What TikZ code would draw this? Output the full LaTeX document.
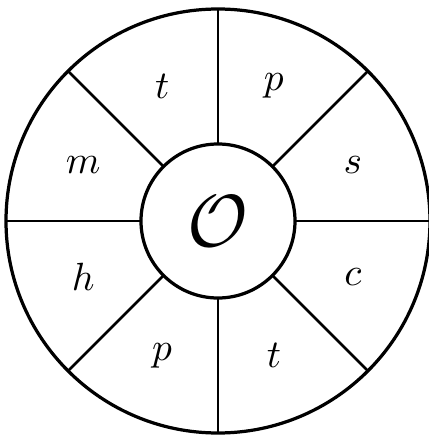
\documentclass[tikz,border=0pt]{standalone}
\usepackage{graphicx}
\usetikzlibrary{positioning}

\newcommand\bigletter[2]{\scalebox{#1}{$#2$}}

\begin{document}
\begin{tikzpicture}[
    ring/.style={circle, draw, line width=4.6pt, inner sep=0pt, outer sep=0pt},
    spoke/.style={line width=3.6pt},
    letter/.style={inner sep=0pt}
]
\useasboundingbox (-10.9,-10.85) rectangle (10.55,11.05);

% rings
\node[ring, minimum size=21.2cm] (rim) at (0,0) {};
\node[ring, minimum size=7.7cm] (hub) at (0,0) {\bigletter{10.5}{\mathcal{O}}};

% spokes
\foreach \a in {0,45,...,315}
  \draw[spoke] (hub.\a) -- (rim.\a);

% sector letters
\foreach \a/\l [count=\i] in {22.5/s, 67.5/p, 112.5/t, 157.5/m, 202.5/h, 247.5/p, 292.5/t, 337.5/c}
  \node[letter] (sec\i) at (\a:7.3) {\bigletter{5.6}{\l}};

\end{tikzpicture}
\end{document}
